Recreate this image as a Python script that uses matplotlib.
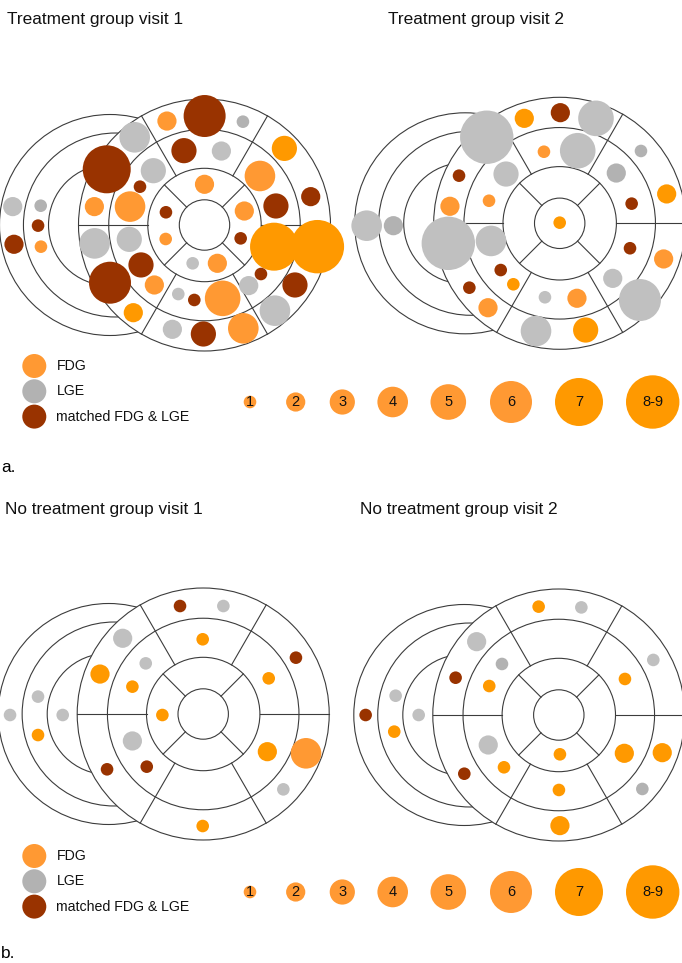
import matplotlib
matplotlib.use("Agg")
import matplotlib.pyplot as plt
import numpy as np
from matplotlib.patches import Circle

plt.rcParams['font.family'] = ['Liberation Sans', 'DejaVu Sans']

W, H = 682, 963
UNIT = 126  # pixels per outer bullseye radius

COLORS = {'fdg': '#FF9933', 'fdg2': '#FF9900', 'lge': '#C0C0C0',
          'lge2': '#B2B2B2', 'both': '#993300'}
LINE = '#3c3c3c'

# bubble radius in pixels for a number of patients
RADIUS_PX = {1: 6.3, 2: 9.6, 3: 12.6, 4: 15.3, 5: 17.8, 6: 21.0, 7: 24.0, 9: 26.7}

size_labels = ['1', '2', '3', '4', '5', '6', '7', '8-9']
size_counts = [1, 2, 3, 4, 5, 6, 7, 9]
size_kinds = ['fdg'] * 6 + ['fdg2'] * 2

legend_labels = ['FDG', 'LGE', 'matched FDG & LGE']
legend_kinds = ['fdg', 'lge2', 'both']

# --- Treatment group visit 1 ---
t1_x = [-1.522, -1.300, -1.321, -1.512, -1.298, -0.554, -0.298, 0.001, 0.305, -0.163,
        0.134, 0.634, -0.776, -0.406, 0.440, -0.512, 0.0, -0.874, -0.591, -0.306,
        0.316, 0.567, 0.843, -0.872, -0.597, -0.308, 0.287, 0.552, 0.896, -0.504,
        -0.094, 0.102, 0.448, 0.351, 0.718, -0.750, -0.398, -0.208, -0.081, 0.144,
        0.559, -0.565, -0.255, -0.009, 0.308]
t1_y = [0.146, 0.153, -0.005, -0.153, -0.172, 0.696, 0.825, 0.865, 0.820, 0.590,
        0.587, 0.608, 0.442, 0.431, 0.389, 0.304, 0.323, 0.146, 0.146, 0.101,
        0.111, 0.151, 0.225, -0.146, -0.114, -0.111, -0.106, -0.172, -0.172, -0.317,
        -0.304, -0.304, -0.389, -0.481, -0.476, -0.458, -0.476, -0.548, -0.595, -0.582,
        -0.680, -0.696, -0.828, -0.865, -0.820]
t1_n = [2, 1, 1, 2, 1, 4, 2, 6, 1, 3,
        2, 3, 7, 3, 4, 1, 2, 2, 4, 1,
        2, 3, 2, 4, 3, 1, 1, 7, 9, 3,
        1, 2, 1, 2, 3, 6, 2, 1, 1, 5,
        4, 2, 2, 3, 4]
t1_kind = ['lge', 'lge2', 'both', 'both', 'fdg', 'lge', 'fdg', 'both', 'lge2', 'both',
           'lge', 'fdg2', 'both', 'lge', 'fdg', 'both', 'fdg', 'fdg', 'fdg', 'both',
           'fdg', 'both', 'both', 'lge', 'lge', 'fdg', 'both', 'fdg2', 'fdg2', 'both',
           'lge', 'fdg', 'both', 'lge', 'both', 'both', 'fdg', 'lge', 'both', 'fdg',
           'lge', 'fdg2', 'lge', 'both', 'fdg']

# --- Treatment group visit 2 ---
t2_x = [-1.532, -1.320, -0.579, -0.281, 0.005, 0.288, -0.125, 0.143, 0.645, -0.426,
        0.449, -0.799, -0.871, -0.561, 0.849, 0.571, 0.0, -0.884, -0.545, 0.558,
        0.825, -0.468, -0.368, -0.717, 0.421, -0.117, 0.137, 0.637, -0.569, -0.188,
        0.206]
t2_y = [-0.019, -0.019, 0.683, 0.833, 0.878, 0.833, 0.568, 0.576, 0.574, 0.391,
        0.399, 0.378, 0.135, 0.179, 0.233, 0.156, 0.005, -0.159, -0.140, -0.198,
        -0.283, -0.371, -0.484, -0.511, -0.437, -0.587, -0.595, -0.609, -0.670, -0.855,
        -0.847]
t2_n = [4, 2, 9, 2, 2, 5, 1, 5, 1, 3,
        2, 1, 2, 1, 2, 1, 1, 9, 4, 1,
        2, 1, 1, 1, 2, 1, 2, 6, 2, 4,
        3]
t2_kind = ['lge', 'lge2', 'lge', 'fdg2', 'both', 'lge', 'fdg', 'lge', 'lge2', 'lge',
           'lge2', 'both', 'fdg', 'fdg', 'fdg2', 'both', 'fdg2', 'lge', 'lge', 'both',
           'fdg', 'both', 'fdg2', 'both', 'lge', 'lge', 'fdg', 'lge', 'fdg', 'lge',
           'fdg2']

# --- No treatment group visit 1 ---
n1_x = [-0.184, 0.160, -0.639, -0.004, 0.736, -0.456, -0.819, -0.562, 0.520, -1.311,
        -1.533, -1.115, -0.324, -1.311, -0.562, 0.509, 0.816, -0.763, -0.448, 0.636,
        -0.004]
n1_y = [0.857, 0.857, 0.601, 0.593, 0.447, 0.402, 0.317, 0.217, 0.283, 0.138,
        -0.008, -0.008, -0.008, -0.167, -0.214, -0.299, -0.312, -0.439, -0.418, -0.598,
        -0.889]
n1_n = [1, 1, 2, 1, 1, 1, 2, 1, 1, 1,
        1, 1, 1, 1, 2, 2, 4, 1, 1, 1,
        1]
n1_kind = ['both', 'lge', 'lge', 'fdg2', 'both', 'lge', 'fdg2', 'fdg2', 'fdg2', 'lge',
           'lge', 'lge', 'fdg2', 'fdg2', 'lge', 'fdg2', 'fdg', 'both', 'both', 'lge',
           'fdg2']

# --- No treatment group visit 2 ---
n2_x = [-0.160, 0.179, -0.652, -0.451, 0.750, -0.819, -0.552, 0.525, -1.295, -1.533,
        -1.112, -1.306, -0.560, 0.009, 0.520, 0.821, -0.435, -0.750, 0.663, 0.001,
        0.009]
n2_y = [0.860, 0.854, 0.582, 0.405, 0.437, 0.296, 0.230, 0.286, 0.153, 0.0,
        0.0, -0.132, -0.238, -0.312, -0.304, -0.299, -0.415, -0.466, -0.587, -0.595,
        -0.878]
n2_n = [1, 1, 2, 1, 1, 1, 1, 1, 1, 1,
        1, 1, 2, 1, 2, 2, 1, 1, 1, 1,
        2]
n2_kind = ['fdg2', 'lge', 'lge', 'lge2', 'lge', 'both', 'fdg2', 'fdg2', 'lge', 'both',
           'lge', 'fdg2', 'lge', 'fdg2', 'fdg2', 'fdg2', 'fdg2', 'both', 'lge2', 'fdg2',
           'fdg2']

panels = [
    ('Treatment group visit 1', (204.5, 225.0), (7, 24), t1_x, t1_y, t1_n, t1_kind),
    ('Treatment group visit 2', (559.7, 223.3), (388, 24), t2_x, t2_y, t2_n, t2_kind),
    ('No treatment group visit 1', (203.2, 714.0), (5, 514), n1_x, n1_y, n1_n, n1_kind),
    ('No treatment group visit 2', (558.8, 715.0), (360, 514), n2_x, n2_y, n2_n, n2_kind),
]

# ring radii of the 17-segment polar map and the long-axis arcs behind it
RINGS = [1.0, 0.76, 0.45, 0.2]
BACK_ARCS = [(-0.75, 0.877), (-0.707, 0.73), (-0.757, 0.481)]


def draw_bullseye(ax):
    for cx, r in BACK_ARCS:
        ax.add_patch(Circle((cx, 0), r, fill=False, ec=LINE, lw=0.8, zorder=1))
    ax.add_patch(Circle((0, 0), 1.0, fc='white', ec='none', zorder=2))
    for r in RINGS:
        ax.add_patch(Circle((0, 0), r, fill=False, ec=LINE, lw=0.8, zorder=3))
    # six basal/mid segments, four apical segments
    for a in np.radians(np.arange(0, 360, 60)):
        ax.plot([RINGS[2] * np.cos(a), np.cos(a)], [RINGS[2] * np.sin(a), np.sin(a)],
                color=LINE, lw=0.8, zorder=3)
    for a in np.radians(np.arange(45, 360, 90)):
        ax.plot([RINGS[3] * np.cos(a), RINGS[2] * np.cos(a)],
                [RINGS[3] * np.sin(a), RINGS[2] * np.sin(a)],
                color=LINE, lw=0.8, zorder=3)


fig = plt.figure(figsize=(W / 100, H / 100), dpi=100)

for title, (cx, cy), tpos, xs, ys, ns, kinds in panels:
    ax = fig.add_axes([0, 0, 1, 1])
    ax.set_xlim(-cx / UNIT, (W - cx) / UNIT)
    ax.set_ylim((cy - H) / UNIT, cy / UNIT)
    ax.set_axis_off()
    draw_bullseye(ax)
    for x, y, n, k in zip(xs, ys, ns, kinds):
        ax.add_patch(Circle((x, y), RADIUS_PX[n] / UNIT, fc=COLORS[k], ec='none', zorder=4))

# titles, legends and panel letters in pixel coordinates
top = fig.add_axes([0, 0, 1, 1])
top.set_xlim(0, W)
top.set_ylim(H, 0)
top.set_axis_off()

for title, _, (tx, ty), *_ in panels:
    top.text(tx, ty, title, fontsize=12.4, ha='left', va='baseline', color='#111111')

size_x = [250, 295.7, 342.3, 392.7, 448.3, 511, 579, 652.7]
for y0 in (0, 490):
    for i, (lab, k) in enumerate(zip(legend_labels, legend_kinds)):
        ly = 366 + 25.3 * i + y0
        top.add_patch(Circle((34.3, ly), 12, fc=COLORS[k], ec='none'))
        top.text(56.5, ly, lab, fontsize=10.2, ha='left', va='center', color='#111111')
    for sx, lab, n, k in zip(size_x, size_labels, size_counts, size_kinds):
        top.add_patch(Circle((sx, 402 + y0), RADIUS_PX[n], fc=COLORS[k], ec='none'))
        top.text(sx, 402.5 + y0, lab, fontsize=10.5, ha='center', va='center', color='#111111')

top.text(1, 472, 'a.', fontsize=12.4, ha='left', va='baseline')
top.text(1, 958, 'b.', fontsize=12.4, ha='left', va='baseline')

fig.savefig('out.png', dpi=100, facecolor='white')
